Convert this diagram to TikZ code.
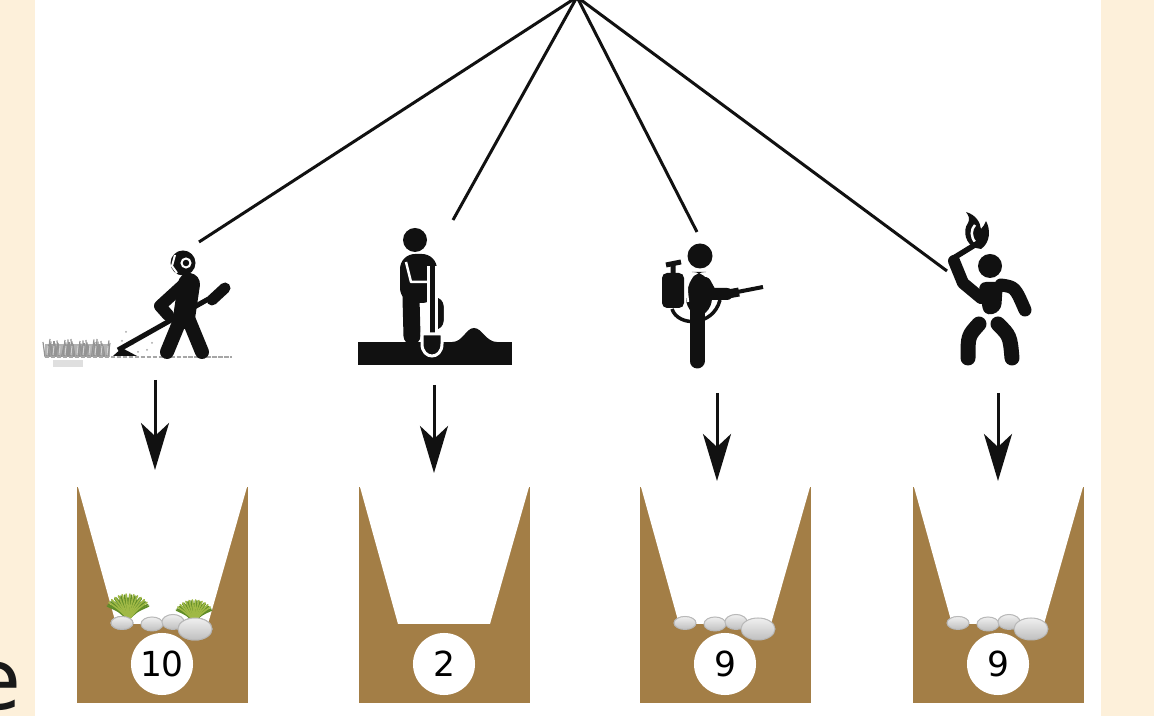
\documentclass[tikz,border=0pt]{standalone}
\usepackage{fontspec}
\setmainfont{DejaVu Sans}
\usetikzlibrary{arrows.meta}

\definecolor{cream}{RGB}{253,240,218}
\definecolor{soil}{RGB}{163,126,70}
\definecolor{pict}{RGB}{17,17,17}
\definecolor{grassgreen}{RGB}{96,140,40}
\definecolor{grasslight}{RGB}{160,185,70}

\begin{document}
\begin{tikzpicture}[x=0.01cm,y=-0.01cm,
    spoke/.style={pict, line width=0.3mm},
    drop/.style={pict, line width=0.3mm, -{Stealth[length=4.7mm,width=2.8mm,inset=1.3mm]}},
    limb/.style={draw=pict, line cap=round, line join=round},
    stone/.style={top color=gray!12, bottom color=gray!50, draw=gray!55, line width=0.1mm},
    grass/.style={grassgreen, line width=0.16mm, line cap=round},
    numdisc/.style={circle, fill=white, minimum size=6.2mm, inner sep=0pt, font=\fontsize{9.8}{12}\selectfont}]

\useasboundingbox (0,0) rectangle (1154,716);
\fill[cream] (0,0) rectangle (1154,716);
\fill[white] (35,0) rectangle (1101,716);

\node[anchor=base east, inner sep=0pt, text=black!90, font=\fontsize{24}{28}\selectfont] (lettere) at (22,710) {e};

% spokes from the top
\coordinate (root) at (577,-3);
\coordinate (mower) at (199,242);
\coordinate (digger) at (453,220);
\coordinate (sprayer) at (697,232);
\coordinate (burner) at (947,271);
\foreach \i in {mower,digger,sprayer,burner}
    \draw[spoke] (root) -- (\i);

% brush cutter
\fill[gray!60] (45,344) rectangle (110,357);
\foreach \gx in {45,46.5,...,109}
    \draw[gray!85, line width=0.12mm] (\gx,357) -- ({\gx+mod(\gx*3,5)-2},{339+mod(\gx*7,8)});
\foreach \gx in {47,53,...,107}
    \draw[gray!35, line width=0.1mm] (\gx,355) -- ({\gx+1},{345+mod(\gx*5,6)});
\fill[gray!25] (53,360) rectangle (83,367);
\draw[gray!70, line width=0.25mm, dash pattern=on 1.2pt off 0.5pt] (45,357) -- (232,357);
\foreach \px/\py in {126/332,133/344,141/338,147/350,152/343,122/341,138/352}
    \fill[gray!70] (\px,\py) circle (1);
\draw[pict, line width=0.5mm] (118,350) -- (212,297);
\draw[limb, line width=1.1mm] (212,300) -- (225,288);
\fill[pict] (113,356) -- (122,348) -- (137,356) -- cycle;
\draw[limb, line width=1.4mm] (181,318) -- (167,352);
\draw[limb, line width=1.4mm] (188,318) -- (202,352);
\draw[limb, line width=2.2mm] (189,284) -- (184,318);
\draw[limb, line width=1.2mm] (183,285) -- (160,306) -- (168,315);
\fill[pict] (183,263) circle (12.5);
\draw[white, line width=0.2mm] (186,263) circle (4.5);
\draw[white, line width=0.2mm, line join=round] (175,255) -- (172,266) -- (177,273);

% digging
\fill[pict] (358,342) rectangle (512,365);
\fill[pict] (452,342) .. controls (463,342) and (466,328) .. (474,328)
    .. controls (482,328) and (486,342) .. (497,342) -- cycle;
\fill[pict] (415,240) circle (12);
\fill[pict, rounded corners=1.5mm] (400,254) rectangle (437,303);
\draw[limb, line width=1.7mm] (411,298) -- (412,336);
\fill[pict, draw=white, line width=0.25mm, rounded corners=1mm] (431,296) rectangle (445,331);
\draw[white, line width=0.25mm, line join=round] (406,262) -- (411,282) -- (428,282);
\draw[white, line width=1.1mm] (432,266) -- (432,335);
\draw[pict, line width=0.5mm] (432,266) -- (432,335);
\fill[pict, draw=white, line width=0.3mm] (422,334) -- (442,334) -- (442,344)
    .. controls (442,352) and (437,356) .. (432,356)
    .. controls (427,356) and (422,352) .. (422,344) -- cycle;

% sprayer
\fill[pict, rounded corners=0.5mm] (662,273) rectangle (684,308);
\draw[pict, line width=0.5mm] (673,273) -- (673,264) (666,265) -- (681,262);
\draw[pict, line width=0.35mm] (672,309) .. controls (678,327) and (713,327) .. (720,300);
\draw[limb, line width=1.5mm] (697,310) -- (697,361);
\fill[pict, rounded corners=2mm] (686,272) rectangle (712,318);
\draw[white, line width=0.25mm] (692,276) .. controls (686,286) .. (688,302);
\draw[limb, line width=1.2mm] (705,283) -- (711,294) -- (727,294);
\draw[pict, line width=0.4mm] (727,294) -- (763,287);
\draw[pict, line width=0.9mm] (728,294) -- (739,292);
\fill[pict] (700,256) circle (12.5);

% burning
\fill[pict] (976,248) .. controls (966,245) and (962,231) .. (968,223)
    .. controls (970,219) and (969,216) .. (966,212)
    .. controls (976,215) and (980,222) .. (981,229)
    .. controls (983,227) and (985,224) .. (986,221)
    .. controls (991,230) and (990,243) .. (981,249) -- cycle;
\draw[white, line width=0.25mm] (976,243) .. controls (970,237) and (971,229) .. (975,225);
\draw[limb, line width=0.55mm] (952,259) -- (978,243);
\draw[limb, line width=1.2mm] (981,298) -- (963,283) -- (954,261);
\fill[pict] (990,266) circle (12);
\fill[pict, rounded corners=0.8mm] (978,282) -- (1003,282) -- (1001,312) -- (984,316) -- cycle;
\draw[limb, line width=1.3mm] (1001,285) .. controls (1015,287) .. (1025,310);
\draw[limb, line width=1.5mm] (979,324) .. controls (968,336) .. (968,358);
\draw[limb, line width=1.5mm] (998,324) .. controls (1010,336) .. (1012,358);

% arrows down to the trenches
\foreach \i/\ax/\atop/\abot in {1/155/380/470, 2/434/385/473, 3/717/393/481, 4/998/393/481} {
    \coordinate (from\i) at (\ax,\atop);
    \coordinate (to\i) at (\ax,\abot);
    \draw[drop] (from\i) -- (to\i);
}

% trenches
\foreach \x/\n/\lab/\stones in {77/t1/10/1, 359/t2/2/0, 640/t3/9/1, 913/t4/9/1} {
    \fill[soil] (\x,487) rectangle ++(171,216);
    \fill[white] (\x+1,487) -- (\x+39,624) -- (\x+131,624) -- (\x+170,487) -- cycle;
    \ifnum\stones=1
        \foreach \rx/\ry/\ra/\rb in {45/623/11/6.5, 75/624/11/7, 96/622/11/7.5, 118/629/17/11}
            \fill[stone] (\x+\rx,\ry) ellipse [x radius=\ra, y radius=\rb];
    \fi
    \node[numdisc] (\n) at (\x+85,664) {\lab};
}

% grass in the first trench
\foreach \gx/\gy/\gs in {128/620/1, 194/622/0.85} {
    \begin{scope}[shift={(\gx,\gy)}, scale=\gs]
    \foreach \k in {-14,...,14}
        \draw[grass] (0,0) .. controls ({-(90+\k*3.2)}:12) .. ({-(90+\k*4)}:{22+mod(\k*\k*3,9)});
    \foreach \k in {-11,-9,...,11}
        \draw[grass, grasslight] (1,0) .. controls ({-(90+\k*3.5)}:12) .. ({-(90+\k*4.3)}:{21+mod(\k*\k*5,8)});
    \end{scope}
}
\foreach \rx/\ry/\ra/\rb in {45/623/11/6.5, 118/629/17/11}
    \fill[stone] (77+\rx,\ry) ellipse [x radius=\ra, y radius=\rb];

\end{tikzpicture}
\end{document}
